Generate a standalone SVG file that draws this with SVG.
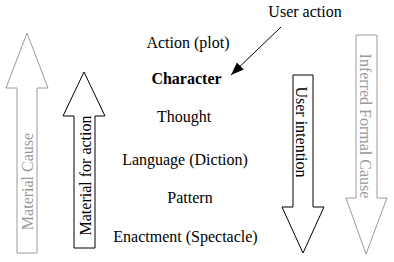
<svg xmlns="http://www.w3.org/2000/svg" width="394" height="262" viewBox="0 0 394 262" font-family="'Liberation Serif', 'DejaVu Serif', serif" font-size="16">
<style>
.lbl{text-anchor:middle}
.gray{fill:#9a9a9a}
.ab{fill:#fff;stroke:#000;stroke-width:1}
.ag{fill:#fff;stroke:#9a9a9a;stroke-width:1}
.bold{font-weight:bold}
</style>
<defs>
<marker id="ah" markerUnits="userSpaceOnUse" markerWidth="14" markerHeight="11" refX="13" refY="5" orient="auto">
<path d="M0,0 L13,5 L0,10 z" fill="#000"/>
</marker>
</defs>
<rect width="394" height="262" fill="#fff"/>
<g id="material-cause">
<polygon class="ag" points="27,33 48,88 37,88 37,253 17,253 17,88 6,88"/>
<text class="lbl gray" font-family="Liberation Serif" transform="translate(32.5,181.5) rotate(-90)">Material Cause</text>
</g>
<g id="material-for-action">
<polygon class="ab" points="84,72 105,116 95,116 95,248 74,248 74,116 63,116"/>
<text class="lbl" font-family="Liberation Serif" transform="translate(90.5,175.5) rotate(-90)">Material for action</text>
</g>
<g id="user-intention">
<polygon class="ab" points="293,75 313,75 313,207 324,207 303,253 282,207 293,207"/>
<text class="lbl" font-family="Liberation Serif" transform="translate(296,132) rotate(90)">User intention</text>
</g>
<g id="inferred-formal-cause">
<polygon class="ag" points="356,35 377,35 377,198 387,198 366,254 346,198 356,198"/>
<text class="lbl gray" font-family="Liberation Serif" transform="translate(360,126) rotate(90)">Inferred Formal Cause</text>
</g>
<g id="action-plot"><text class="lbl" font-family="Liberation Serif" x="188" y="48">Action (plot)</text></g>
<g id="character"><text class="lbl bold" font-family="Liberation Serif" x="186.5" y="84">Character</text></g>
<g id="thought"><text class="lbl" font-family="Liberation Serif" x="184" y="122">Thought</text></g>
<g id="language"><text class="lbl" font-family="Liberation Serif" x="185" y="165">Language (Diction)</text></g>
<g id="pattern"><text class="lbl" font-family="Liberation Serif" x="190" y="203">Pattern</text></g>
<g id="enactment"><text class="lbl" font-family="Liberation Serif" x="185.5" y="242">Enactment (Spectacle)</text></g>
<g id="user-action"><text class="lbl" font-family="Liberation Serif" x="305" y="17">User action</text></g>
<g id="connectors">
<line x1="281" y1="27" x2="231" y2="75" stroke="#000" stroke-width="1" marker-end="url(#ah)"/>
</g>
</svg>
